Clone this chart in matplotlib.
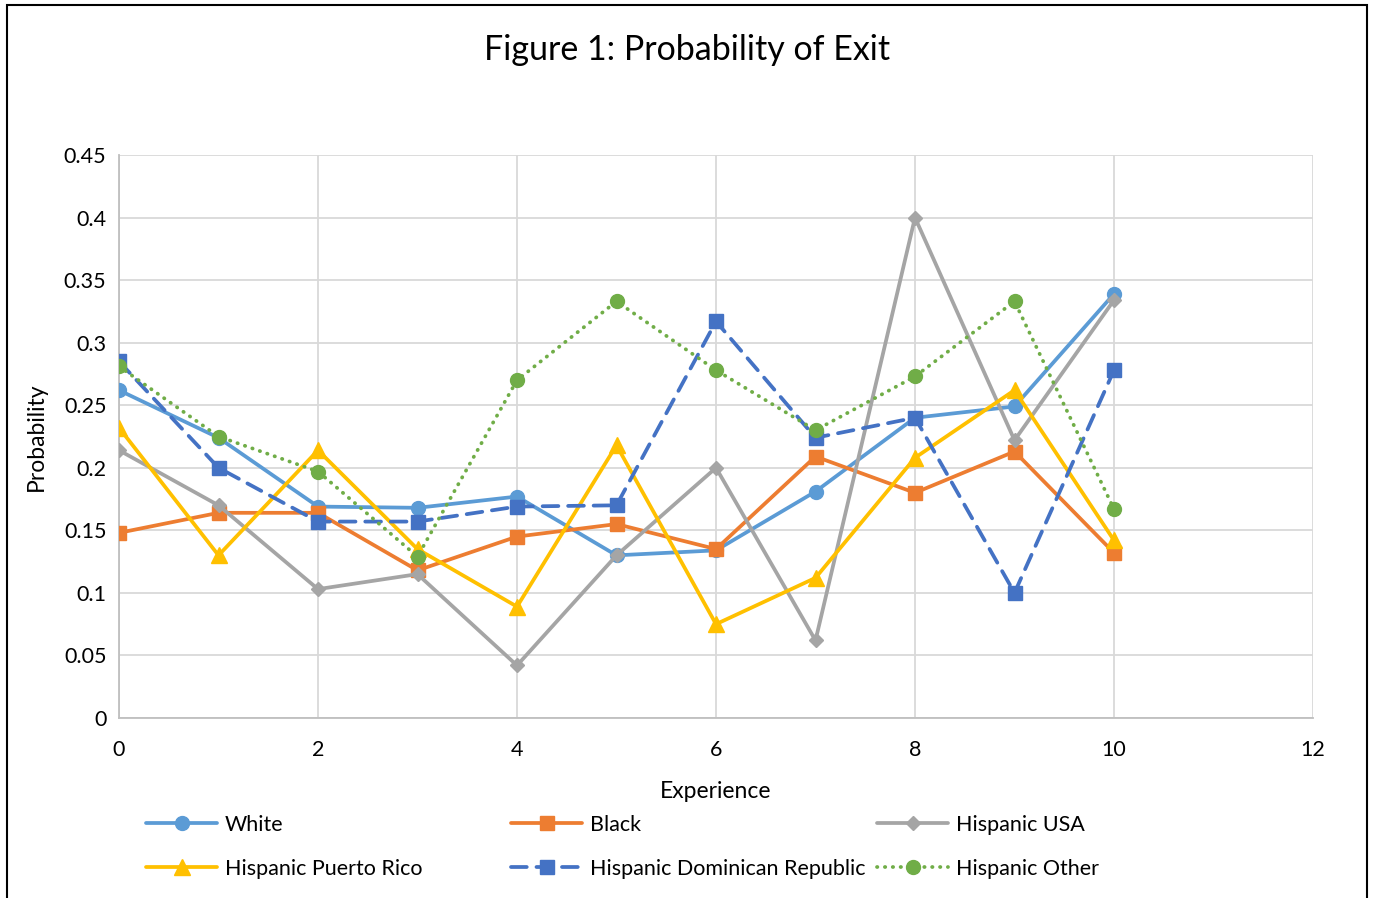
import numpy as np
import matplotlib
matplotlib.use("Agg")
import matplotlib.pyplot as plt
from matplotlib.patches import Rectangle
from matplotlib.ticker import FuncFormatter

plt.rcParams['font.family'] = ['Lato', 'DejaVu Sans']

# --- Datos ---
experience = [0, 1, 2, 3, 4, 5, 6, 7, 8, 9, 10]

white = [0.262, 0.224, 0.169, 0.168, 0.177, 0.130, 0.134, 0.181, 0.240, 0.249, 0.339]
black = [0.148, 0.164, 0.164, 0.118, 0.145, 0.155, 0.135, 0.209, 0.180, 0.213, 0.132]
hisp_usa = [0.214, 0.170, 0.103, 0.115, 0.042, 0.130, 0.200, 0.062, 0.400, 0.222, 0.334]
hisp_pr = [0.232, 0.130, 0.214, 0.135, 0.089, 0.218, 0.075, 0.112, 0.208, 0.262, 0.142]
hisp_dr = [0.285, 0.200, 0.157, 0.157, 0.169, 0.170, 0.317, 0.224, 0.240, 0.100, 0.278]
hisp_other = [0.281, 0.225, 0.197, 0.129, 0.270, 0.333, 0.278, 0.230, 0.273, 0.333, 0.167]

labels = ['White', 'Black', 'Hispanic USA', 'Hispanic Puerto Rico',
          'Hispanic Dominican Republic', 'Hispanic Other']

x_ticks = [0, 2, 4, 6, 8, 10, 12]
y_ticks = [0, 0.05, 0.1, 0.15, 0.2, 0.25, 0.3, 0.35, 0.4, 0.45]

# --- Estilos ---
series = [
    (white, dict(color='#5B9BD5', marker='o', ms=10, ls='-')),
    (black, dict(color='#ED7D31', marker='s', ms=9.5, ls='-')),
    (hisp_usa, dict(color='#A5A5A5', marker='D', ms=7.5, ls='-')),
    (hisp_pr, dict(color='#FFC000', marker='^', ms=11, ls='-')),
    (hisp_dr, dict(color='#4472C4', marker='s', ms=9.5, ls=(0, (4.2, 2.6)))),
    (hisp_other, dict(color='#70AD47', marker='o', ms=10, ls=(0, (0.1, 2.0)))),
]

W, H = 1373, 898
fig = plt.figure(figsize=(W / 100, H / 100), dpi=100)
ax = fig.add_axes([119 / W, 1 - 718 / H, (1313 - 119) / W, (718 - 155) / H])

handles = []
for vals, st in series:
    ln, = ax.plot(experience, vals, color=st['color'], lw=2.7, ls=st['ls'],
                  marker=st['marker'], ms=st['ms'], mec=st['color'], mfc=st['color'],
                  dash_capstyle='round', solid_capstyle='round', zorder=3)
    handles.append(ln)

ax.set_xlim(0, 12)
ax.set_ylim(0, 0.45)
ax.set_xticks(x_ticks)
ax.set_yticks(y_ticks)
ax.yaxis.set_major_formatter(FuncFormatter(lambda v, p: f'{v:g}'))
ax.grid(True, color='#D9D9D9', lw=1.3, zorder=0)
ax.set_axisbelow(True)
for s in ['top', 'right']:
    ax.spines[s].set_visible(False)
for s in ['left', 'bottom']:
    ax.spines[s].set_color('#BFBFBF')
    ax.spines[s].set_linewidth(1.3)
ax.tick_params(length=0, labelsize=15.5, colors='black')
ax.tick_params(axis='x', pad=16)
ax.tick_params(axis='y', pad=9)

ax.set_xlabel('Experience', fontsize=16.5, labelpad=15)
ax.set_ylabel('Probability', fontsize=16.5, labelpad=12)

fig.text(687 / W, 1 - 50 / H, 'Figure 1: Probability of Exit', fontsize=24.5,
         ha='center', va='center')

# Leyenda: tres columnas, cada una como leyenda separada
col_x = [146, 511, 877]
for i, cx in enumerate(col_x):
    leg = fig.legend([handles[i], handles[i + 3]], [labels[i], labels[i + 3]],
                     loc='upper left', bbox_to_anchor=(cx / W, 1 - 815 / H),
                     frameon=False, fontsize=15.5, handlelength=3.3, handletextpad=0.35,
                     borderpad=0, borderaxespad=0, labelspacing=1.1, numpoints=1)

# Marco del gráfico
fig.add_artist(Rectangle((7 / W, -0.02), 1360 / W, 1.02 - 5 / H, fill=False,
                         ec='black', lw=1.5, transform=fig.transFigure))

fig.savefig('out.png', dpi=100)
